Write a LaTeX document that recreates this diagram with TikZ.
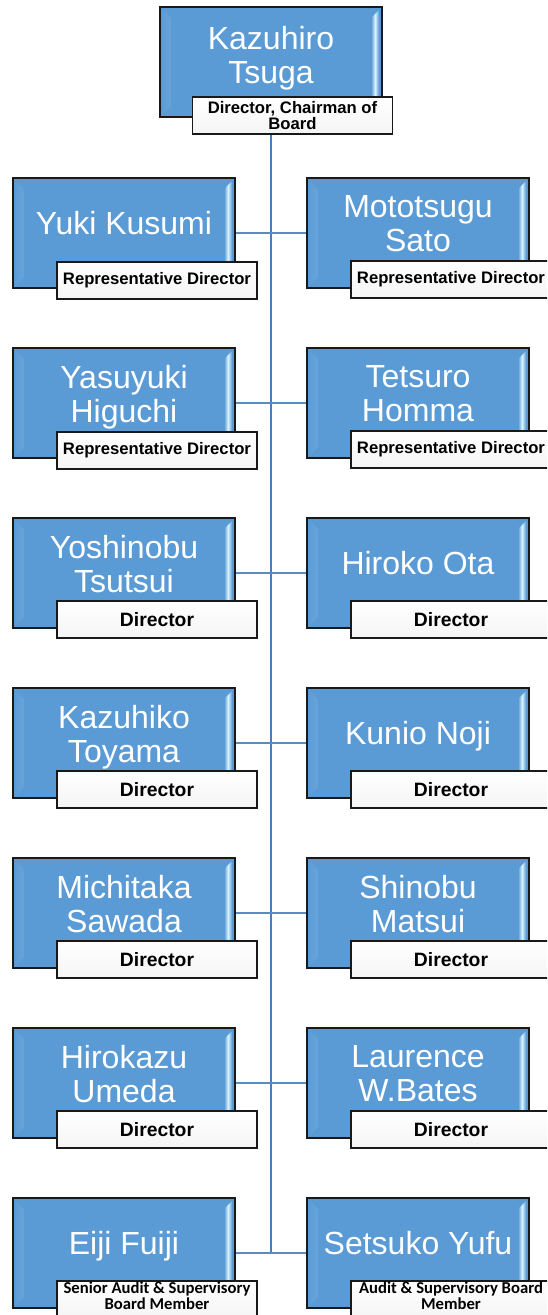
\documentclass[tikz,border=0pt]{standalone}
\usepackage{fontspec}
\setmainfont{Liberation Sans}
\newfontfamily\carlito{Carlito}
\definecolor{boxblue}{HTML}{5B9BD5}
\definecolor{hlite}{HTML}{D8F4FF}
\definecolor{vlinecol}{HTML}{4A7EBB}
\definecolor{hlinecol}{HTML}{5A8CC2}
\tikzset{
  pbox/.style={draw=black!90, line width=0.9pt, fill=boxblue,
    minimum width=166.5pt, minimum height=82.5pt, inner sep=0pt,
    path picture={
      \shade[left color=boxblue, right color=boxblue, middle color=hlite]
        ([shift={(3,3)}]path picture bounding box.north west) --
        ([shift={(11,11)}]path picture bounding box.north west) --
        ([shift={(11,-11)}]path picture bounding box.south west) --
        ([shift={(3,-3)}]path picture bounding box.south west) -- cycle;
      \shade[left color=boxblue, right color=boxblue, middle color=hlite]
        ([shift={(-3,3)}]path picture bounding box.north east) --
        ([shift={(-11,11)}]path picture bounding box.north east) --
        ([shift={(-11,-11)}]path picture bounding box.south east) --
        ([shift={(-3,-3)}]path picture bounding box.south east) -- cycle;
    }},
  pname/.style={text=white, font=\fontsize{24}{25.5}\selectfont, align=center,
    inner sep=0pt, anchor=north},
  lbox/.style={draw=black!90, line width=0.8pt, top color=white, bottom color=black!4,
    minimum width=150pt, minimum height=27.75pt, inner sep=0pt, align=center},
  rdtext/.style={font=\bfseries\fontsize{12.5}{15}\selectfont},
  dtext/.style={font=\bfseries\fontsize{14.5}{17}\selectfont},
  toptext/.style={font=\bfseries\fontsize{12.5}{11.7}\selectfont},
  audtext/.style={font=\carlito\bfseries\fontsize{12.5}{9.5}\selectfont, align=center,
    inner sep=0pt, anchor=north},
  vconn/.style={draw=vlinecol, line width=2pt},
  hconn/.style={draw=hlinecol, line width=1.4pt},
}
\newcommand\personbox[5]{%
  \node[pbox] (#1) at (#2,#3+55) {};
  \node[pname] (#1n) at (#2,#3+#5) {#4};
}
\begin{document}
\begin{tikzpicture}[x=0.75pt, y=-0.75pt]
\useasboundingbox (0,0) rectangle (547,1315);
\clip (0,0) rectangle (547,1315);

% boxes
\node[pbox] (top) at (271,62) {};
\node[pname] (topn) at (271,26.1) {Kazuhiro\\Tsuga};

\personbox{L1}{124}{178}{Yuki Kusumi}{33.1}
\personbox{R1}{418}{178}{Mototsugu\\Sato}{17.1}
\personbox{L2}{124}{348}{Yasuyuki\\Higuchi}{17.1}
\personbox{R2}{418}{348}{Tetsuro\\Homma}{17.1}
\personbox{L3}{124}{518}{Yoshinobu\\Tsutsui}{17.1}
\personbox{R3}{418}{518}{Hiroko Ota}{33.1}
\personbox{L4}{124}{688}{Kazuhiko\\Toyama}{17.1}
\personbox{R4}{418}{688}{Kunio Noji}{33.1}
\personbox{L5}{124}{858}{Michitaka\\Sawada}{17.1}
\personbox{R5}{418}{858}{Shinobu\\Matsui}{17.1}
\personbox{L6}{124}{1028}{Hirokazu\\Umeda}{17.1}
\personbox{R6}{418}{1028}{Laurence\\W.Bates}{17.1}
\personbox{L7}{124}{1198}{Eiji Fuiji}{33.1}
\personbox{R7}{418}{1198}{Setsuko Yufu}{33.1}

% connectors
\draw[vconn] (top.south) -- (top.south |- L7.east);
\foreach \i in {1,...,7} {\draw[hconn] (L\i.east) -- (R\i.west);}

% labels
\node[lbox, toptext] (topl) at (292.5,115.5) {Director, Chairman of\\Board};
\node[lbox, rdtext] (L1l) at (157,280.5) {Representative Director};
\node[lbox, rdtext] (R1l) at (451,279.5) {Representative Director};
\node[lbox, rdtext] (L2l) at (157,450.5) {Representative Director};
\node[lbox, rdtext] (R2l) at (451,449.5) {Representative Director};
\node[lbox, dtext] (L3l) at (157,619.5) {Director};
\node[lbox, dtext] (R3l) at (451,619.5) {Director};
\node[lbox, dtext] (L4l) at (157,789.5) {Director};
\node[lbox, dtext] (R4l) at (451,789.5) {Director};
\node[lbox, dtext] (L5l) at (157,959.5) {Director};
\node[lbox, dtext] (R5l) at (451,959.5) {Director};
\node[lbox, dtext] (L6l) at (157,1129.5) {Director};
\node[lbox, dtext] (R6l) at (451,1129.5) {Director};
\node[lbox] (L7l) at (157,1299.5) {};
\node[lbox] (R7l) at (451,1299.5) {};
\node[audtext] (L7t) at (157,1282) {Senior Audit \& Supervisory\\Board Member};
\node[audtext] (R7t) at (451,1282) {Audit \& Supervisory Board\\Member};
\end{tikzpicture}
\end{document}
